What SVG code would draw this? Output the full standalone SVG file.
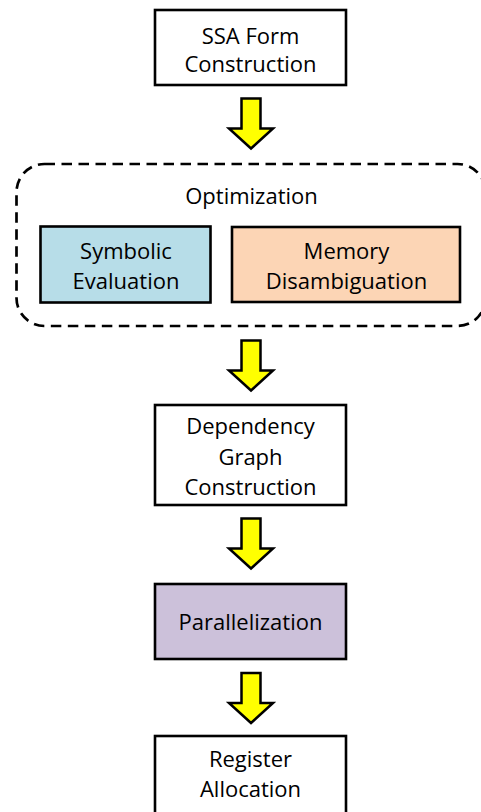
<svg xmlns="http://www.w3.org/2000/svg" width="481" height="812" viewBox="0 0 481 812">
  <defs>
    <style>
      .box { stroke: #000; stroke-width: 2.6; }
      .plain { fill: #fff; }
      .sym { fill: #b7dde8; }
      .mem { fill: #fcd5b5; }
      .par { fill: #ccc1da; }
      .group { fill: none; stroke: #000; stroke-width: 2.7; stroke-dasharray: 10.5 6.5; }
      .label { font-family: "Open Sans", "Liberation Sans", sans-serif; font-size: 22px; fill: #000; text-anchor: middle; }
      .flow { fill: #ffff00; stroke: #000; stroke-width: 2.5; stroke-linejoin: miter; }
    </style>
    <!-- block arrow pointing down, origin at the top centre of the shaft -->
    <path id="down" d="M -9.5 0 H 9.5 V 30 H 22 L 0 50 L -22 30 H -9.5 Z"/>
  </defs>

  <rect width="481" height="812" fill="#fff"/>

  <g id="ssa">
    <rect class="box plain" x="155" y="10" width="191" height="75"/>
    <text class="label" x="250.5" y="43.5">SSA Form</text>
    <text class="label" x="250.5" y="72">Construction</text>
  </g>

  <g id="optimization">
    <rect class="group" x="16.5" y="164" width="469" height="162" rx="28" ry="28"/>
    <text class="label" x="251.5" y="203.5">Optimization</text>
  </g>

  <g id="symbolic">
    <rect class="box sym" x="40.5" y="226.5" width="170" height="76"/>
    <text class="label" x="126" y="259">Symbolic</text>
    <text class="label" x="126" y="288.5">Evaluation</text>
  </g>

  <g id="memory">
    <rect class="box mem" x="232" y="227" width="228" height="75"/>
    <text class="label" x="346.5" y="259">Memory</text>
    <text class="label" x="346.5" y="288.5">Disambiguation</text>
  </g>

  <g id="dependency">
    <rect class="box plain" x="155" y="405" width="191" height="100"/>
    <text class="label" x="250.5" y="434">Dependency</text>
    <text class="label" x="250.5" y="464.5">Graph</text>
    <text class="label" x="250.5" y="495">Construction</text>
  </g>

  <g id="parallelization">
    <rect class="box par" x="155" y="584" width="191" height="75"/>
    <text class="label" x="250.5" y="630">Parallelization</text>
  </g>

  <g id="register">
    <rect class="box plain" x="155" y="736" width="191" height="82"/>
    <text class="label" x="250.5" y="767">Register</text>
    <text class="label" x="250.5" y="797">Allocation</text>
  </g>

  <g id="connectors">
    <use href="#down" class="flow" x="251" y="98.5"/>
    <use href="#down" class="flow" x="251" y="340.5"/>
    <use href="#down" class="flow" x="251" y="518.5"/>
    <use href="#down" class="flow" x="251" y="673"/>
  </g>
</svg>
